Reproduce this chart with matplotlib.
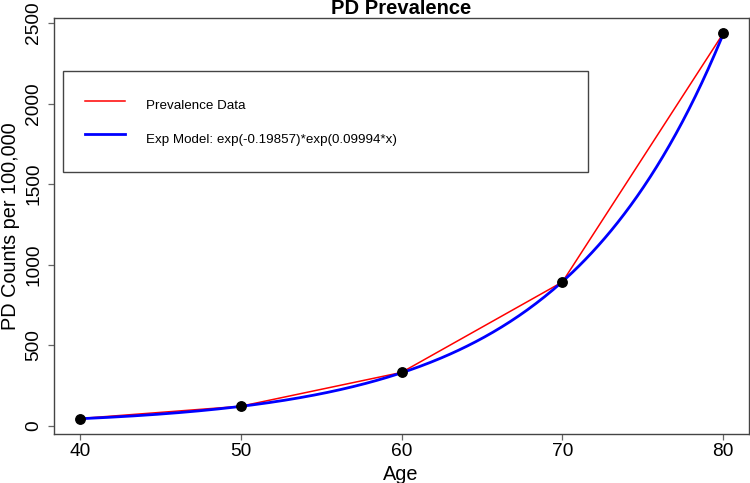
import numpy as np
import matplotlib
matplotlib.use("Agg")
import matplotlib.pyplot as plt
from matplotlib.lines import Line2D

plt.rcParams['font.family'] = ['Liberation Sans', 'DejaVu Sans']

# Data
ages = [40, 50, 60, 70, 80]
prevalence = [46, 122, 332, 893, 2436]
model_intercept = -0.19857
model_rate = 0.09994
title = "PD Prevalence"
xlabel = "Age"
ylabel = "PD Counts per 100,000"
legend_labels = ["Prevalence Data", "Exp Model: exp(-0.19857)*exp(0.09994*x)"]
xticks = [40, 50, 60, 70, 80]
yticks = [0, 500, 1000, 1500, 2000, 2500]

W, H = 750, 483
fig = plt.figure(figsize=(W / 100, H / 100), dpi=100)
left, right, top, bottom = 54, 749, 18, 434
ax = fig.add_axes([left / W, 1 - bottom / H, (right - left) / W, (bottom - top) / H])

xs = np.linspace(min(ages), max(ages), 300)
model = np.exp(model_intercept) * np.exp(model_rate * xs)

ax.plot(ages, prevalence, color='red', lw=1.1, zorder=2)
ax.plot(xs, model, color='blue', lw=2.0, zorder=3)
ax.plot(ages, prevalence, 'o', color='black', ms=6.8, zorder=4)

ax.set_xlim(38.4, 81.6)
ax.set_ylim(-50, 2531)
ax.set_xticks(xticks)
ax.set_yticks(yticks)
ax.set_xticklabels([str(t) for t in xticks])
ax.set_yticklabels([str(t) for t in yticks])

for s in ax.spines.values():
    s.set_color('#444444')
    s.set_linewidth(1.0)

ax.tick_params(axis='both', direction='out', length=4.3, width=0.9, color='#666666',
               labelsize=13.8, labelcolor='black')
ax.tick_params(axis='x', pad=2)
ax.tick_params(axis='y', pad=4)
for lab in ax.get_yticklabels():
    lab.set_rotation(90)
    lab.set_va('center')
    lab.set_ha('right')

fig.text(401 / W, 1 - 14 / H, title, ha='center', va='baseline', fontsize=14.5, fontweight='bold')
fig.text(401 / W, 1 - 480 / H, xlabel, ha='center', va='baseline', fontsize=14.3)
fig.text(11 / W, 1 - 226 / H, ylabel, ha='center', va='center', rotation=90, fontsize=14.3)

handles = [Line2D([], [], color='red', lw=1.1), Line2D([], [], color='blue', lw=2.0)]
leg = ax.legend(handles, legend_labels, loc='upper left', mode='expand',
                bbox_to_anchor=(0.013, 0.632, 0.755, 0.2406), borderaxespad=0,
                fontsize=9.6, borderpad=1.65, handleheight=2.4, labelspacing=0.7,
                handlelength=3.0, handletextpad=1.6, fancybox=False, framealpha=1,
                edgecolor='#444444')
leg.get_frame().set_linewidth(1.0)

fig.savefig("out.png", dpi=100)
